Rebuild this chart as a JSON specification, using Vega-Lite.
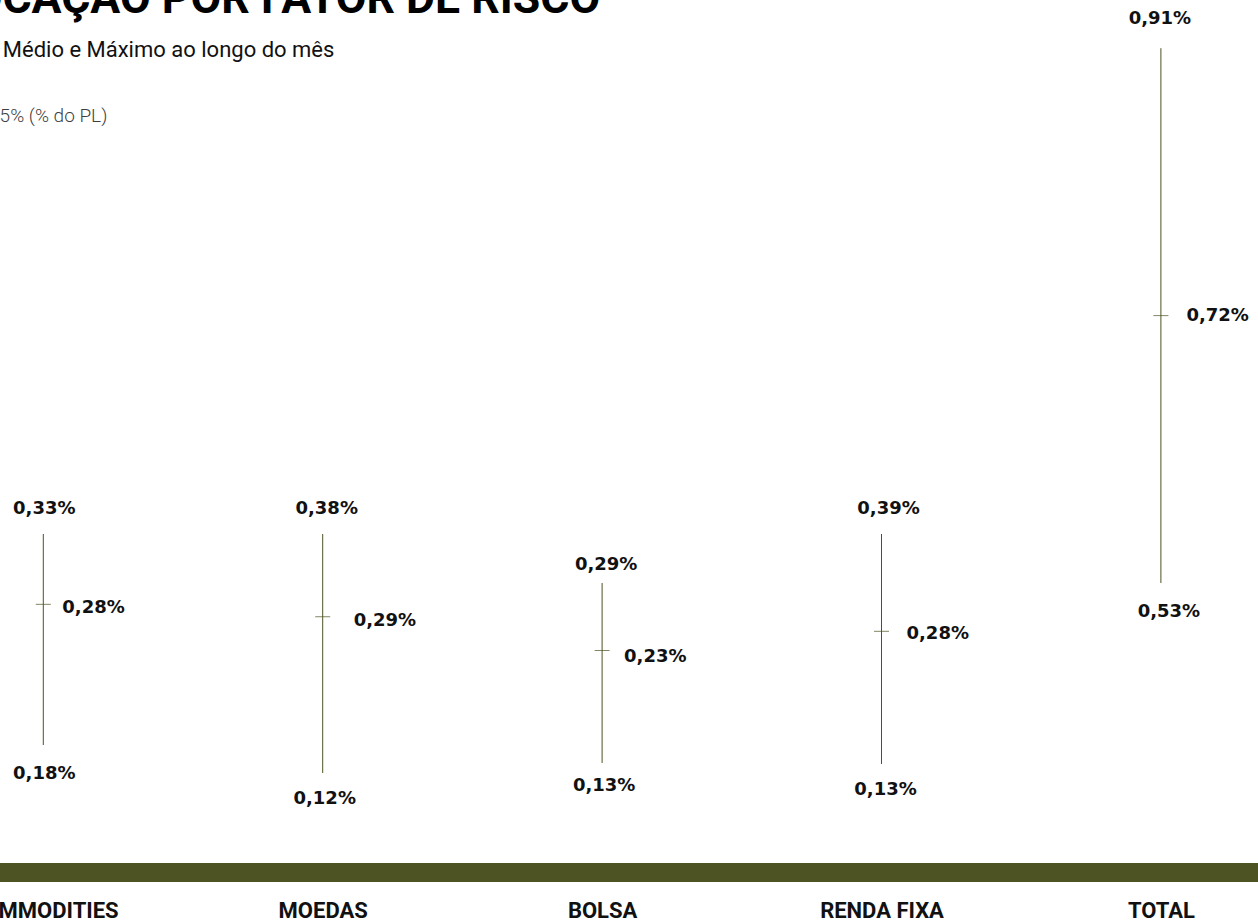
{
  "$schema": "https://vega.github.io/schema/vega-lite/v6.json",
  "width": 1258,
  "height": 742,
  "autosize": {"type": "none"},
  "padding": {"top": 130, "left": 0, "right": 0, "bottom": 52},
  "background": "#ffffff",
  "config": {
    "view": {"stroke": null},
    "locale": {"number": {"decimal": ",", "thousands": ".", "grouping": [3], "currency": ["R$", ""]}}
  },
  "title": {
    "text": "ALOCAÇÃO POR FATOR DE RISCO",
    "subtitle": "Mínimo, Médio e Máximo ao longo do mês",
    "anchor": "start",
    "frame": "group",
    "dx": -81,
    "dy": 52,
    "offset": 0,
    "font": "Roboto",
    "fontSize": 44.6,
    "fontWeight": "bold",
    "color": "#000000",
    "subtitleFont": "Roboto",
    "subtitleFontSize": 22,
    "subtitleFontWeight": "normal",
    "subtitleColor": "#111111",
    "subtitlePadding": 17.5
  },
  "data": {
    "values": [
      {"categoria": "COMMODITIES", "minimo": 0.0018, "medio": 0.0028, "maximo": 0.0033},
      {"categoria": "MOEDAS", "minimo": 0.0012, "medio": 0.0029, "maximo": 0.0038},
      {"categoria": "BOLSA", "minimo": 0.0013, "medio": 0.0023, "maximo": 0.0029},
      {"categoria": "RENDA FIXA", "minimo": 0.0013, "medio": 0.0028, "maximo": 0.0039},
      {"categoria": "TOTAL", "minimo": 0.0053, "medio": 0.0072, "maximo": 0.0091}
    ]
  },
  "encoding": {
    "x": {
      "field": "categoria",
      "type": "nominal",
      "scale": {
        "type": "point",
        "domain": ["COMMODITIES", "MOEDAS", "BOLSA", "RENDA FIXA", "TOTAL"],
        "range": [-96.4, 1300.6],
        "padding": 0.5
      },
      "axis": {
        "title": "VaR 95% (% do PL)",
        "titleX": -49.6,
        "titleY": -750.3,
        "titleAngle": 0,
        "titleAlign": "left",
        "titleBaseline": "alphabetic",
        "titleFont": "Roboto",
        "titleFontWeight": 300,
        "titleFontSize": 19,
        "titleColor": "#3f3f3f",
        "domainColor": "#4d5322",
        "domainWidth": 19,
        "ticks": false,
        "tickSize": 0,
        "grid": false,
        "labelPadding": 28,
        "labelFont": "Roboto",
        "labelFontWeight": "bold",
        "labelFontSize": 22,
        "labelColor": "#111111",
        "labelAngle": 0,
        "labelLimit": 0,
        "labelOverlap": false
      }
    }
  },
  "resolve": {"scale": {"y": "independent"}},
  "layer": [
    {
      "transform": [{"filter": {"field": "categoria", "equal": "COMMODITIES"}}],
      "layer": [
        {"mark": {"type": "rule", "color": "#4d5322", "strokeWidth": 1},
         "encoding": {"y": {"field": "maximo", "type": "quantitative", "scale": {"domain": [0.0008971, 0.006172], "nice": false, "zero": false}, "axis": null}, "y2": {"field": "minimo"}}},
        {"mark": {"type": "tick", "color": "#4d5322", "size": 15, "thickness": 1},
         "encoding": {"y": {"field": "medio", "type": "quantitative", "scale": {"domain": [0.0008971, 0.006172], "nice": false, "zero": false}, "axis": null}}},
        {"mark": {"type": "text", "align": "center", "baseline": "middle", "dx": 1, "dy": -25, "font": "DejaVu Sans", "fontWeight": "bold", "fontSize": 18, "color": "#111111"},
         "encoding": {"y": {"field": "maximo", "type": "quantitative", "scale": {"domain": [0.0008971, 0.006172], "nice": false, "zero": false}, "axis": null}, "text": {"field": "maximo", "type": "quantitative", "format": ".2%"}}},
        {"mark": {"type": "text", "align": "center", "baseline": "middle", "dx": 1, "dy": 29, "font": "DejaVu Sans", "fontWeight": "bold", "fontSize": 18, "color": "#111111"},
         "encoding": {"y": {"field": "minimo", "type": "quantitative", "scale": {"domain": [0.0008971, 0.006172], "nice": false, "zero": false}, "axis": null}, "text": {"field": "minimo", "type": "quantitative", "format": ".2%"}}},
        {"mark": {"type": "text", "align": "left", "baseline": "middle", "dx": 19, "dy": 4, "font": "DejaVu Sans", "fontWeight": "bold", "fontSize": 18, "color": "#111111"},
         "encoding": {"y": {"field": "medio", "type": "quantitative", "scale": {"domain": [0.0008971, 0.006172], "nice": false, "zero": false}, "axis": null}, "text": {"field": "medio", "type": "quantitative", "format": ".2%"}}}
      ]
    },
    {
      "transform": [{"filter": {"field": "categoria", "equal": "MOEDAS"}}],
      "layer": [
        {"mark": {"type": "rule", "color": "#4d5322", "strokeWidth": 1},
         "encoding": {"y": {"field": "maximo", "type": "quantitative", "scale": {"domain": [0.000123, 0.008195], "nice": false, "zero": false}, "axis": null}, "y2": {"field": "minimo"}}},
        {"mark": {"type": "tick", "color": "#4d5322", "size": 15, "thickness": 1},
         "encoding": {"y": {"field": "medio", "type": "quantitative", "scale": {"domain": [0.000123, 0.008195], "nice": false, "zero": false}, "axis": null}}},
        {"mark": {"type": "text", "align": "center", "baseline": "middle", "dx": 4, "dy": -25, "font": "DejaVu Sans", "fontWeight": "bold", "fontSize": 18, "color": "#111111"},
         "encoding": {"y": {"field": "maximo", "type": "quantitative", "scale": {"domain": [0.000123, 0.008195], "nice": false, "zero": false}, "axis": null}, "text": {"field": "maximo", "type": "quantitative", "format": ".2%"}}},
        {"mark": {"type": "text", "align": "center", "baseline": "middle", "dx": 2, "dy": 26, "font": "DejaVu Sans", "fontWeight": "bold", "fontSize": 18, "color": "#111111"},
         "encoding": {"y": {"field": "minimo", "type": "quantitative", "scale": {"domain": [0.000123, 0.008195], "nice": false, "zero": false}, "axis": null}, "text": {"field": "minimo", "type": "quantitative", "format": ".2%"}}},
        {"mark": {"type": "text", "align": "left", "baseline": "middle", "dx": 31, "dy": 4, "font": "DejaVu Sans", "fontWeight": "bold", "fontSize": 18, "color": "#111111"},
         "encoding": {"y": {"field": "medio", "type": "quantitative", "scale": {"domain": [0.000123, 0.008195], "nice": false, "zero": false}, "axis": null}, "text": {"field": "medio", "type": "quantitative", "format": ".2%"}}}
      ]
    },
    {
      "transform": [{"filter": {"field": "categoria", "equal": "BOLSA"}}],
      "layer": [
        {"mark": {"type": "rule", "color": "#4d5322", "strokeWidth": 1},
         "encoding": {"y": {"field": "maximo", "type": "quantitative", "scale": {"domain": [0.0003311, 0.0069267], "nice": false, "zero": false}, "axis": null}, "y2": {"field": "minimo"}}},
        {"mark": {"type": "tick", "color": "#4d5322", "size": 15, "thickness": 1},
         "encoding": {"y": {"field": "medio", "type": "quantitative", "scale": {"domain": [0.0003311, 0.0069267], "nice": false, "zero": false}, "axis": null}}},
        {"mark": {"type": "text", "align": "center", "baseline": "middle", "dx": 4, "dy": -18, "font": "DejaVu Sans", "fontWeight": "bold", "fontSize": 18, "color": "#111111"},
         "encoding": {"y": {"field": "maximo", "type": "quantitative", "scale": {"domain": [0.0003311, 0.0069267], "nice": false, "zero": false}, "axis": null}, "text": {"field": "maximo", "type": "quantitative", "format": ".2%"}}},
        {"mark": {"type": "text", "align": "center", "baseline": "middle", "dx": 2, "dy": 23, "font": "DejaVu Sans", "fontWeight": "bold", "fontSize": 18, "color": "#111111"},
         "encoding": {"y": {"field": "minimo", "type": "quantitative", "scale": {"domain": [0.0003311, 0.0069267], "nice": false, "zero": false}, "axis": null}, "text": {"field": "minimo", "type": "quantitative", "format": ".2%"}}},
        {"mark": {"type": "text", "align": "left", "baseline": "middle", "dx": 22, "dy": 6, "font": "DejaVu Sans", "fontWeight": "bold", "fontSize": 18, "color": "#111111"},
         "encoding": {"y": {"field": "medio", "type": "quantitative", "scale": {"domain": [0.0003311, 0.0069267], "nice": false, "zero": false}, "axis": null}, "text": {"field": "medio", "type": "quantitative", "format": ".2%"}}}
      ]
    },
    {
      "transform": [{"filter": {"field": "categoria", "equal": "RENDA FIXA"}}],
      "layer": [
        {"mark": {"type": "rule", "color": "#4d5322", "strokeWidth": 1},
         "encoding": {"y": {"field": "maximo", "type": "quantitative", "scale": {"domain": [0.0000792, 0.008467], "nice": false, "zero": false}, "axis": null}, "y2": {"field": "minimo"}}},
        {"mark": {"type": "tick", "color": "#4d5322", "size": 15, "thickness": 1},
         "encoding": {"y": {"field": "medio", "type": "quantitative", "scale": {"domain": [0.0000792, 0.008467], "nice": false, "zero": false}, "axis": null}}},
        {"mark": {"type": "text", "align": "center", "baseline": "middle", "dx": 7, "dy": -25, "font": "DejaVu Sans", "fontWeight": "bold", "fontSize": 18, "color": "#111111"},
         "encoding": {"y": {"field": "maximo", "type": "quantitative", "scale": {"domain": [0.0000792, 0.008467], "nice": false, "zero": false}, "axis": null}, "text": {"field": "maximo", "type": "quantitative", "format": ".2%"}}},
        {"mark": {"type": "text", "align": "center", "baseline": "middle", "dx": 4, "dy": 26, "font": "DejaVu Sans", "fontWeight": "bold", "fontSize": 18, "color": "#111111"},
         "encoding": {"y": {"field": "minimo", "type": "quantitative", "scale": {"domain": [0.0000792, 0.008467], "nice": false, "zero": false}, "axis": null}, "text": {"field": "minimo", "type": "quantitative", "format": ".2%"}}},
        {"mark": {"type": "text", "align": "left", "baseline": "middle", "dx": 25, "dy": 3, "font": "DejaVu Sans", "fontWeight": "bold", "fontSize": 18, "color": "#111111"},
         "encoding": {"y": {"field": "medio", "type": "quantitative", "scale": {"domain": [0.0000792, 0.008467], "nice": false, "zero": false}, "axis": null}, "text": {"field": "medio", "type": "quantitative", "format": ".2%"}}}
      ]
    },
    {
      "transform": [{"filter": {"field": "categoria", "equal": "TOTAL"}}],
      "layer": [
        {"mark": {"type": "rule", "color": "#4d5322", "strokeWidth": 1},
         "encoding": {"y": {"field": "maximo", "type": "quantitative", "scale": {"domain": [0.0032466, 0.0085188], "nice": false, "zero": false}, "axis": null}, "y2": {"field": "minimo"}}},
        {"mark": {"type": "tick", "color": "#4d5322", "size": 15, "thickness": 1},
         "encoding": {"y": {"field": "medio", "type": "quantitative", "scale": {"domain": [0.0032466, 0.0085188], "nice": false, "zero": false}, "axis": null}}},
        {"mark": {"type": "text", "align": "center", "baseline": "middle", "dx": -1, "dy": -29, "font": "DejaVu Sans", "fontWeight": "bold", "fontSize": 18, "color": "#111111"},
         "encoding": {"y": {"field": "maximo", "type": "quantitative", "scale": {"domain": [0.0032466, 0.0085188], "nice": false, "zero": false}, "axis": null}, "text": {"field": "maximo", "type": "quantitative", "format": ".2%"}}},
        {"mark": {"type": "text", "align": "center", "baseline": "middle", "dx": 8, "dy": 29, "font": "DejaVu Sans", "fontWeight": "bold", "fontSize": 18, "color": "#111111"},
         "encoding": {"y": {"field": "minimo", "type": "quantitative", "scale": {"domain": [0.0032466, 0.0085188], "nice": false, "zero": false}, "axis": null}, "text": {"field": "minimo", "type": "quantitative", "format": ".2%"}}},
        {"mark": {"type": "text", "align": "left", "baseline": "middle", "dx": 25.5, "dy": 0, "font": "DejaVu Sans", "fontWeight": "bold", "fontSize": 18, "color": "#111111"},
         "encoding": {"y": {"field": "medio", "type": "quantitative", "scale": {"domain": [0.0032466, 0.0085188], "nice": false, "zero": false}, "axis": null}, "text": {"field": "medio", "type": "quantitative", "format": ".2%"}}}
      ]
    }
  ]
}
